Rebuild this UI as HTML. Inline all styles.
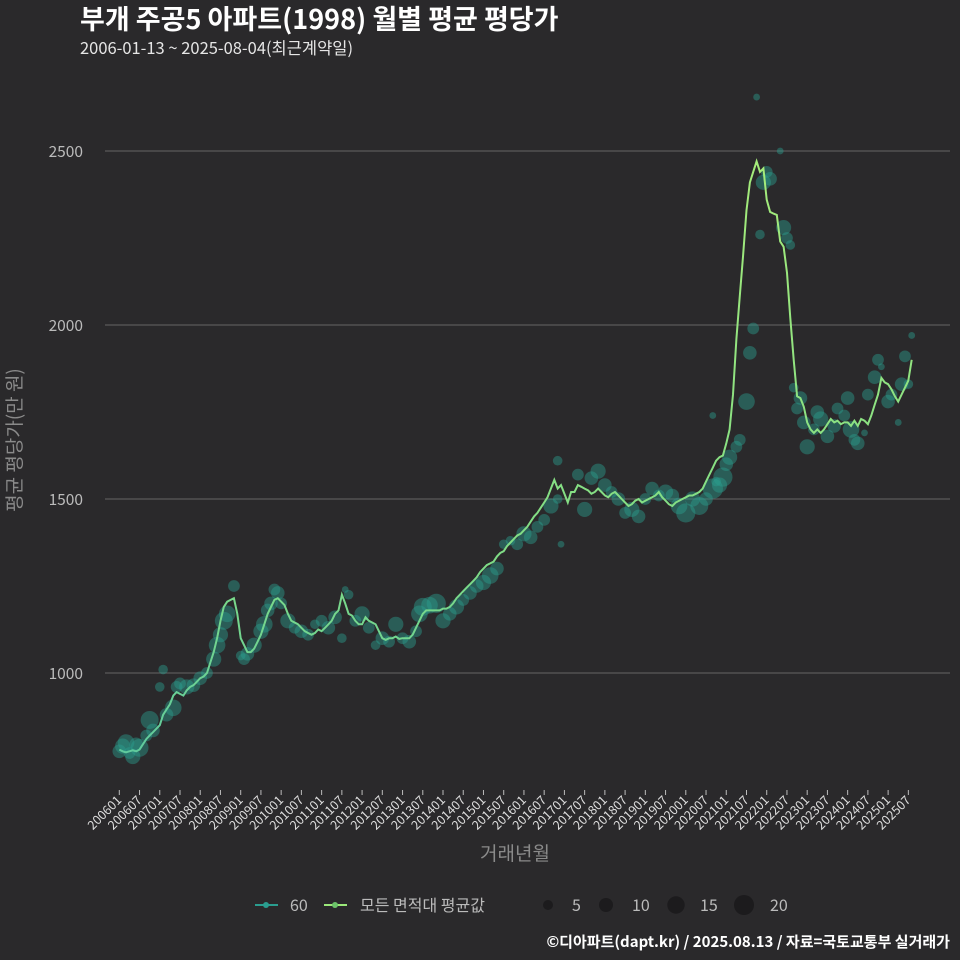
<!DOCTYPE html>
<html><head><meta charset="utf-8">
<style>
body{margin:0;background:#2a292b;}
svg{display:block;font-family:"Noto Sans CJK KR","Liberation Sans",sans-serif;}
</style></head>
<body>
<svg id="chart" width="960" height="960" viewBox="0 0 960 960" xmlns="http://www.w3.org/2000/svg">
<rect width="960" height="960" fill="#2a292b"/>
<defs>
<linearGradient id="lg" gradientUnits="userSpaceOnUse" x1="0" y1="780" x2="0" y2="150">
<stop offset="0" stop-color="#5cc8a0"/><stop offset="0.35" stop-color="#7fdc86"/><stop offset="1" stop-color="#a6ec7a"/>
</linearGradient>
</defs>
<text x="80" y="29" fill="#ffffff" font-size="27" font-weight="bold">부개 주공5 아파트(1998) 월별 평균 평당가</text>
<text x="80" y="54" fill="#e6e6e6" font-size="16.5">2006-01-13 ~ 2025-08-04(최근계약일)</text>
<g id="grid"></g>
<g id="dots"></g>
<g id="line"></g>
<g id="xaxis"></g>
<text x="21" y="440" fill="#8a8a8a" font-size="19" text-anchor="middle" transform="rotate(-90 21 440)">평균 평당가(만 원)</text>
<text x="515" y="860" fill="#8a8a8a" font-size="19" text-anchor="middle">거래년월</text>
<g>
<line x1="255" y1="905" x2="278" y2="905" stroke="#2a9d8f" stroke-width="2"/><circle cx="266" cy="905" r="3" fill="#2a9d8f"/>
<text x="290" y="911" fill="#bbbbbb" font-size="16">60</text>
<line x1="324" y1="905" x2="347" y2="905" stroke="#9be87a" stroke-width="2"/><circle cx="335" cy="905" r="3" fill="#6cc36a"/>
<text x="360" y="911" fill="#bbbbbb" font-size="16">모든 면적대 평균값</text>
<circle cx="548" cy="905" r="5" fill="#1c1b1d"/><text x="572" y="911" fill="#bbbbbb" font-size="16">5</text>
<circle cx="606" cy="905" r="7" fill="#1c1b1d"/><text x="632" y="911" fill="#bbbbbb" font-size="16">10</text>
<circle cx="676" cy="905" r="8.7" fill="#1c1b1d"/><text x="700" y="911" fill="#bbbbbb" font-size="16">15</text>
<circle cx="744" cy="905" r="10" fill="#1c1b1d"/><text x="770" y="911" fill="#bbbbbb" font-size="16">20</text>
</g>
<text x="950" y="947" fill="#ffffff" font-size="15" font-weight="bold" text-anchor="end">©디아파트(dapt.kr) / 2025.08.13 / 자료=국토교통부 실거래가</text>
</svg>
<script>
const yTicks=[1000,1500,2000,2500];
const avgValues=[
780,775,772,775,778,775,780,795,810,820,830,840,
850,880,895,910,935,945,940,935,950,960,965,975,
985,990,1000,1030,1060,1100,1150,1190,1205,1210,1215,1170,
1100,1080,1060,1060,1070,1090,1110,1140,1170,1190,1210,1215,
1205,1195,1170,1150,1145,1140,1130,1120,1115,1110,1115,1125,
1120,1130,1140,1150,1170,1180,1225,1200,1170,1165,1150,1140,
1140,1160,1150,1145,1140,1120,1100,1095,1100,1100,1105,1098,
1100,1100,1100,1110,1130,1150,1170,1180,1180,1180,1180,1180,
1185,1185,1190,1200,1215,1225,1235,1245,1255,1265,1275,1290,
1300,1310,1315,1320,1335,1345,1350,1365,1375,1385,1395,1400,
1410,1420,1435,1450,1460,1475,1490,1505,1530,1555,1530,1540,
1515,1490,1520,1520,1540,1535,1530,1525,1515,1520,1530,1520,
1510,1505,1515,1520,1510,1500,1490,1480,1485,1495,1500,1490,
1495,1500,1505,1510,1520,1505,1495,1485,1480,1490,1495,1500,
1505,1510,1510,1515,1520,1530,1550,1570,1590,1610,1620,1625,
1660,1700,1800,1960,2080,2200,2330,2410,2440,2470,2440,2450,
2360,2325,2320,2316,2240,2225,2150,2020,1900,1795,1790,1765,
1720,1700,1690,1700,1690,1700,1715,1730,1720,1725,1715,1720,
1720,1710,1725,1710,1730,1725,1715,1740,1770,1800,1848,1835,
1830,1815,1795,1780,1800,1820,1840,1900];
const dotMonths=[
0,1,2,3,4,5,6,8,9,10,
12,13,14,16,17,18,20,22,24,26,
28,29,30,31,32,34,36,37,38,40,
42,43,44,45,46,47,48,50,52,54,
56,58,60,62,64,66,67,68,70,72,
74,76,78,80,82,84,86,88,89,90,
92,94,96,98,100,102,104,106,108,110,
112,114,116,118,120,122,124,126,128,130,
130,131,136,138,140,142,144,146,148,150,
152,154,156,158,160,162,164,166,168,170,
172,174,176,177,178,180,181,179,183,184,
176,186,187,188,190,191,192,193,189,196,
197,198,199,200,201,202,203,204,206,207,
208,210,212,213,215,216,217,218,219,221,
222,224,225,226,228,229,231,232,233,234,235];
const dotValues=[
775,790,800,770,760,795,785,820,865,835,
960,1010,880,900,960,970,960,965,985,1000,
1040,1080,1110,1150,1170,1250,1050,1040,1055,1080,
1120,1140,1180,1200,1240,1230,1200,1150,1130,1120,
1110,1140,1150,1130,1160,1100,1240,1225,1150,1170,
1130,1080,1100,1090,1140,1100,1090,1120,1170,1190,
1195,1200,1150,1170,1190,1210,1230,1250,1260,1280,
1300,1370,1380,1370,1400,1390,1420,1440,1480,1500,
1610,1370,1570,1470,1560,1580,1540,1520,1500,1460,
1470,1450,1500,1530,1510,1520,1510,1480,1460,1500,
1480,1500,1530,1550,1540,1600,1620,1563,1650,1670,
1740,1780,1920,1990,2260,2410,2440,2420,2655,2500,
2280,2250,2230,1820,1760,1790,1720,1650,1700,1750,
1730,1680,1710,1760,1740,1790,1700,1670,1660,1690,
1800,1850,1900,1880,1780,1800,1720,1830,1910,1830,1970];
const dotCounts=[
8,10,12,6,10,8,14,6,14,8,
4,4,8,12,6,6,10,8,8,6,
10,12,10,14,12,6,4,6,8,10,
10,12,8,8,6,8,6,10,6,8,
6,4,6,8,8,4,2,4,6,10,
6,4,8,6,10,6,8,6,12,14,
12,16,10,8,10,6,8,8,10,12,
8,4,4,6,10,8,6,6,10,4,
4,2,6,10,8,10,8,6,8,6,
10,8,6,8,6,10,8,12,16,10,
14,8,18,4,10,8,10,16,6,6,
2,12,8,6,4,10,6,8,2,2,
10,6,4,4,6,8,8,10,6,8,
10,8,8,6,6,8,12,6,8,2,
6,8,6,2,8,6,2,8,6,4,2];
const X0=119.3, DX=3.372;
function xs(i){return X0+i*DX;}
function ys(v){return 673-(v-1000)*0.348;}
const NS="http://www.w3.org/2000/svg";
const grid=document.getElementById('grid');
yTicks.forEach(t=>{
  const l=document.createElementNS(NS,'line');
  l.setAttribute('x1',105);l.setAttribute('x2',950);
  l.setAttribute('y1',ys(t));l.setAttribute('y2',ys(t));
  l.setAttribute('stroke','#5a5a5a');l.setAttribute('stroke-width','1.3');
  
  
  grid.appendChild(l);
  const tx=document.createElementNS(NS,'text');
  tx.setAttribute('x',83);tx.setAttribute('y',ys(t)+6);
  tx.setAttribute('fill','#bbbbbb');tx.setAttribute('font-size','15.5');tx.setAttribute('text-anchor','end');
  tx.textContent=t;
  
  
  grid.appendChild(tx);
});
const dots=document.getElementById('dots');
const nD=Math.min(dotMonths.length,dotValues.length,dotCounts.length);
for(let k=0;k<nD;k++){
  const c=document.createElementNS(NS,'circle');
  c.setAttribute('cx',xs(dotMonths[k]));c.setAttribute('cy',ys(dotValues[k]));
  c.setAttribute('r',2.4*Math.sqrt(dotCounts[k]));
  c.setAttribute('fill','#2a9d8f');c.setAttribute('fill-opacity','0.45');
  
  
  dots.appendChild(c);
}
const lineG=document.getElementById('line');
const p=document.createElementNS(NS,'polyline');
p.setAttribute('points',avgValues.map((v,i)=>xs(i).toFixed(1)+','+ys(v).toFixed(1)).join(' '));
p.setAttribute('fill','none');p.setAttribute('stroke','url(#lg)');p.setAttribute('stroke-width','2');


lineG.appendChild(p);
const xa=document.getElementById('xaxis');
for(let i=0;i<avgValues.length;i+=6){
  const y=2006+Math.floor(i/12), m=(i%12)+1;
  const lab=''+y+(m<10?'0':'')+m;
  const x=xs(i);
  const t=document.createElementNS(NS,'line');
  t.setAttribute('x1',x);t.setAttribute('x2',x);t.setAttribute('y1',790);t.setAttribute('y2',795);
  t.setAttribute('stroke','#bbbbbb');
  
  
  xa.appendChild(t);
  const tx=document.createElementNS(NS,'text');
  tx.setAttribute('x',x+3);tx.setAttribute('y',801);
  tx.setAttribute('fill','#dddddd');tx.setAttribute('font-size','12.5');tx.setAttribute('text-anchor','end');
  tx.setAttribute('transform','rotate(-45 '+(x+3)+' 801)');
  tx.textContent=lab;
  
  
  xa.appendChild(tx);
}
</script>
</body></html>
